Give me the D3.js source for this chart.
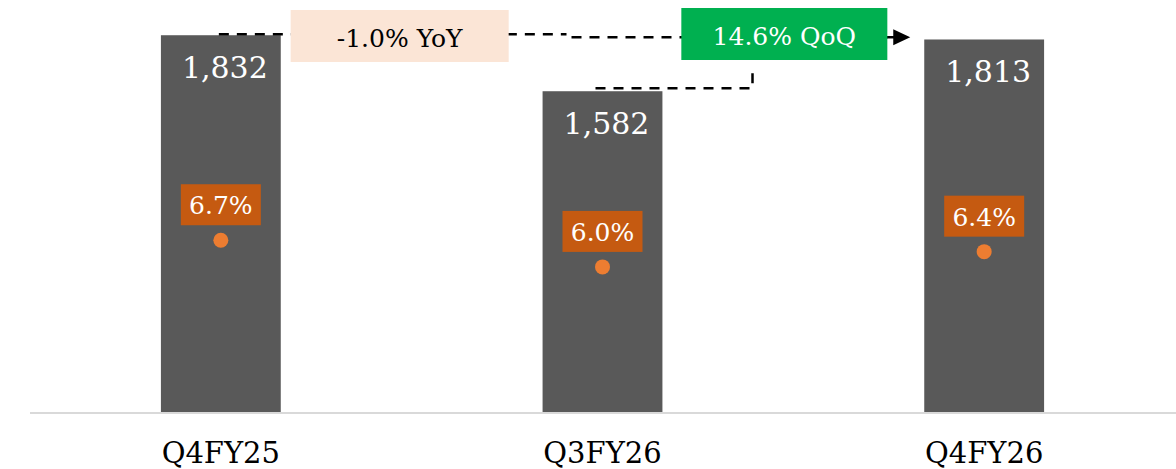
<!DOCTYPE html>
<html>
<head>
<meta charset="utf-8">
<script src="https://cdn.jsdelivr.net/npm/d3@7"></script>
<style>
  body { margin: 0; background: #fff; }
  text { font-family: "DejaVu Serif", serif; }
</style>
</head>
<body>
<svg width="1176" height="469"></svg>
<script>
// chart data
var quarters = ["Q4FY25", "Q3FY26", "Q4FY26"];
var revenue = [1832, 1582, 1813];
var marginPct = [6.7, 6.0, 6.4];
var yoyLabel = "-1.0% YoY";
var qoqLabel = "14.6% QoQ";

var svg = d3.select("svg"),
    width = +svg.attr("width"),
    height = +svg.attr("height");

var rows = quarters.map(function(q, i) {
  return { q: q, rev: revenue[i], pct: marginPct[i] };
});

// scales
var x = d3.scaleBand()
    .domain(quarters)
    .range([30, 1175])
    .paddingInner(0.686)
    .paddingOuter(0.343);

var y = d3.scaleLinear().domain([150, 2000]).range([412, -2.4]);
var y2 = d3.scaleLinear().domain([6, 7]).range([266.9, 228.8]);

function cx(q) { return x(q) + x.bandwidth() / 2; }

// bars
svg.append("g")
  .selectAll("rect")
  .data(rows)
  .enter().append("rect")
    .attr("x", function(d) { return x(d.q); })
    .attr("y", function(d) { return y(d.rev); })
    .attr("width", x.bandwidth())
    .attr("height", function(d) { return y(150) - y(d.rev); })
    .attr("fill", "#595959");

// x axis
var axis = svg.append("g")
    .attr("transform", "translate(0,413)")
    .call(d3.axisBottom(x).tickSize(0).tickSizeOuter(0).tickPadding(29));
axis.select(".domain")
    .attr("stroke", "#d9d9d9")
    .attr("stroke-width", 2)
    .attr("d", "M30,0H1176");
axis.selectAll("text")
    .attr("font-family", "DejaVu Serif")
    .attr("font-size", 29)
    .attr("fill", "#000");

// value labels inside bars
svg.append("g")
  .selectAll("text")
  .data(rows)
  .enter().append("text")
    .attr("x", function(d) { return cx(d.q) + 4; })
    .attr("y", function(d) { return y(d.rev) + 43; })
    .attr("text-anchor", "middle")
    .attr("font-size", 30)
    .attr("fill", "#fff")
    .text(function(d) { return d3.format(",")(d.rev); });

// margin dots + labels
var pct = svg.append("g")
  .selectAll("g")
  .data(rows)
  .enter().append("g");

pct.append("rect")
    .attr("x", function(d) { return cx(d.q) - 40; })
    .attr("y", function(d) { return y2(d.pct) - 35.5 - 20.5; })
    .attr("width", 80)
    .attr("height", 41)
    .attr("fill", "#c55a11");

pct.append("text")
    .attr("x", function(d) { return cx(d.q); })
    .attr("y", function(d) { return y2(d.pct) - 35.5 + 9.5; })
    .attr("text-anchor", "middle")
    .attr("font-size", 25)
    .attr("fill", "#fff")
    .text(function(d) { return d.pct.toFixed(1) + "%"; });

pct.append("circle")
    .attr("cx", function(d) { return cx(d.q); })
    .attr("cy", function(d) { return y2(d.pct); })
    .attr("r", 7.5)
    .attr("fill", "#ed7d31");

// connectors
var c1 = cx(quarters[0]), c2 = cx(quarters[1]), left3 = x(quarters[2]);
var yTop = y(revenue[0]) - 1;
var dash = { stroke: "#000", "stroke-width": 2.5, "stroke-dasharray": "10,8", fill: "none" };

function dashed(d) {
  var p = svg.append("path").attr("d", d);
  Object.keys(dash).forEach(function(k) { p.attr(k, dash[k]); });
  return p;
}

dashed("M" + (c1 - 2) + "," + yTop + "H" + (c2 - 36));
dashed("M" + (c2 - 31) + "," + (yTop + 3) + "H" + (left3 - 31));
dashed("M" + (c2 - 7) + "," + (y(revenue[1]) - 3) + "H" + (c2 + 150) + "V66");

// solid stub + arrow head after the QoQ box
svg.append("path")
    .attr("d", "M" + (left3 - 40) + "," + (yTop + 3) + "H" + (left3 - 30))
    .attr("stroke", "#000")
    .attr("stroke-width", 2.5);
svg.append("path")
    .attr("d", "M" + (left3 - 31) + "," + (yTop + 3 - 8) + "L" + (left3 - 14) + "," + (yTop + 3) +
               "L" + (left3 - 31) + "," + (yTop + 3 + 8) + "Z")
    .attr("fill", "#000");

// YoY box
var yoyX = (c1 + c2) / 2 - 12;
svg.append("rect")
    .attr("x", yoyX - 109).attr("y", 10)
    .attr("width", 218).attr("height", 52)
    .attr("fill", "#fbe5d6");
svg.append("text")
    .attr("x", yoyX).attr("y", 46.5)
    .attr("text-anchor", "middle")
    .attr("font-size", 25)
    .attr("fill", "#000")
    .text(yoyLabel);

// QoQ box
var qoqX = (c2 + cx(quarters[2])) / 2 - 9;
svg.append("rect")
    .attr("x", qoqX - 103).attr("y", 8)
    .attr("width", 206).attr("height", 52)
    .attr("fill", "#00b050");
svg.append("text")
    .attr("x", qoqX).attr("y", 45)
    .attr("text-anchor", "middle")
    .attr("font-size", 25)
    .attr("fill", "#fff")
    .text(qoqLabel);
</script>
</body>
</html>
